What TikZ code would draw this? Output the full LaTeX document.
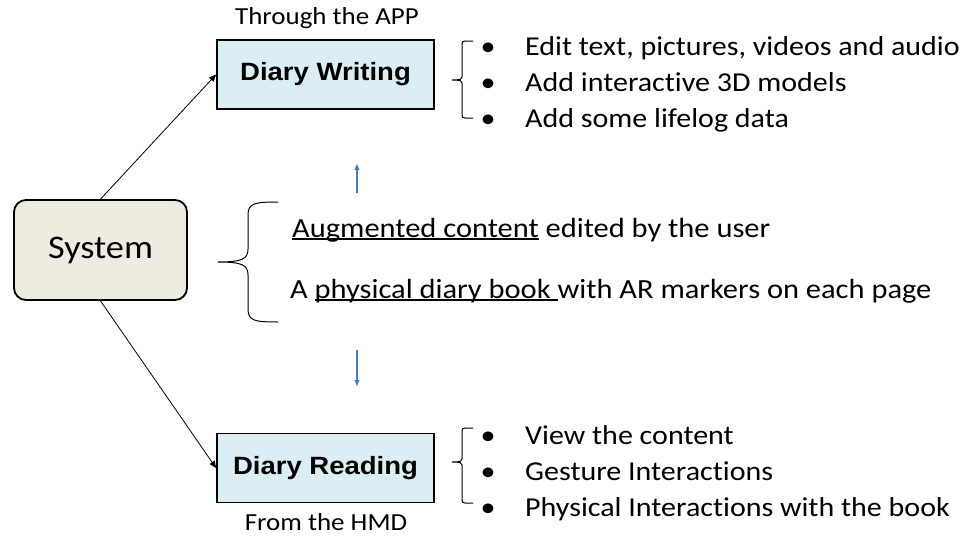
\documentclass[tikz,border=0pt]{standalone}
\usepackage{fontspec}
\setmainfont{Carlito}[FakeStretch=1.1, Ligatures=NoCommon]
\newfontfamily\arialfont{Liberation Sans}[FakeStretch=1.1]
\usetikzlibrary{arrows.meta}
\definecolor{sysfill}{RGB}{238,236,225}
\definecolor{boxfill}{RGB}{219,238,244}
\definecolor{arrblue}{RGB}{74,126,187}
\newcommand\myul[1]{\setbox0\hbox{#1}\rlap{\rule[-2.5pt]{\wd0}{1.1pt}}\box0\relax}
\begin{document}
\begin{tikzpicture}[x=1pt,y=-1pt,
  txt/.style={font=\fontsize{27.3}{32}\selectfont, inner sep=0pt},
  mid/.style={font=\fontsize{27.7}{32}\selectfont, inner sep=0pt},
  small/.style={font=\fontsize{24.5}{29}\selectfont, inner sep=0pt},
  sysbox/.style={draw=black, line width=1.8pt, fill=sysfill, rounded corners=12pt, minimum width=173pt, minimum height=100pt, font=\fontsize{33}{38}\selectfont},
  diarybox/.style={draw=black, line width=1.8pt, fill=boxfill, minimum width=217pt, minimum height=69pt, font=\arialfont\bfseries\fontsize{25}{30}\selectfont},
  conn/.style={-{Triangle[length=7pt,width=6pt]}, line width=0.8pt},
  bluearr/.style={-{Triangle[length=6pt,width=5pt]}, arrblue, line width=1.1pt},
  brace/.style={line width=1pt}
]
\useasboundingbox (0,0) rectangle (971,538);

% main nodes
\node[sysbox] (sys) at (100.5,250) {System};
\node[diarybox] (dw) at (325.5,74.5) {Diary Writing};
\node[diarybox] (dr) at (325.5,468) {Diary Reading};
\node[small] (app) at (327,18) {Through the APP};
\node[small] (hmd) at (326,522) {From the HMD};

% connectors
\draw[conn] (sys.north) -- (dw.west);
\draw[conn] (sys.south) -- (dr.west);

% blue arrows
\coordinate (upA) at (357,193);
\coordinate (upB) at (357,164);
\coordinate (dnA) at (357,350);
\coordinate (dnB) at (357,386);
\draw[bluearr] (upA) -- (upB);
\draw[bluearr] (dnA) -- (dnB);

% middle brace
\draw[brace] (278,202) .. controls (255,202) and (248,203) .. (248,215) -- (248,249)
  .. controls (248,259) and (242,262) .. (218,262)
  .. controls (242,262) and (248,265) .. (248,275) -- (248,309)
  .. controls (248,321) and (255,322) .. (278,322);

% middle text
\node[mid, anchor=base west] (aug) at (292,237) {\myul{Augmented content} edited by the user};
\node[mid, anchor=base west] (phys) at (290,298) {A \myul{physical diary book\ }with AR markers on each page};

% upper right brace
\draw[brace] (473,41) -- (465,41) .. controls (462.5,41) and (462,42) .. (462,44) -- (462,77)
  .. controls (462,79) and (461,80) .. (452,80)
  .. controls (461,80) and (462,81) .. (462,83) -- (462,115)
  .. controls (462,117) and (462.5,118) .. (465,118) -- (473,118);

% lower right brace
\draw[brace] (473,428) -- (465,428) .. controls (462.5,428) and (462,429) .. (462,431) -- (462,459)
  .. controls (462,461) and (461,462) .. (452,462)
  .. controls (461,462) and (462,463) .. (462,465) -- (462,500)
  .. controls (462,502) and (462.5,503) .. (465,503) -- (473,503);

% upper bullets
\node[txt, anchor=base] (wb1) at (488,55) {•};
\node[txt, anchor=base] (wb2) at (488,91) {•};
\node[txt, anchor=base] (wb3) at (488,127) {•};
\node[txt, anchor=base west] (wt1) at (525,55) {Edit text, pictures, videos and audio};
\node[txt, anchor=base west] (wt2) at (525,91) {Add interactive 3D models};
\node[txt, anchor=base west] (wt3) at (525,127) {Add some lifelog data};

% lower bullets
\node[txt, anchor=base] (rb1) at (488,444) {•};
\node[txt, anchor=base] (rb2) at (488,480) {•};
\node[txt, anchor=base] (rb3) at (488,516) {•};
\node[txt, anchor=base west] (rt1) at (525,444) {View the content};
\node[txt, anchor=base west] (rt2) at (525,480) {Gesture Interactions};
\node[txt, anchor=base west] (rt3) at (525,516) {Physical Interactions with the book};
\end{tikzpicture}
\end{document}
